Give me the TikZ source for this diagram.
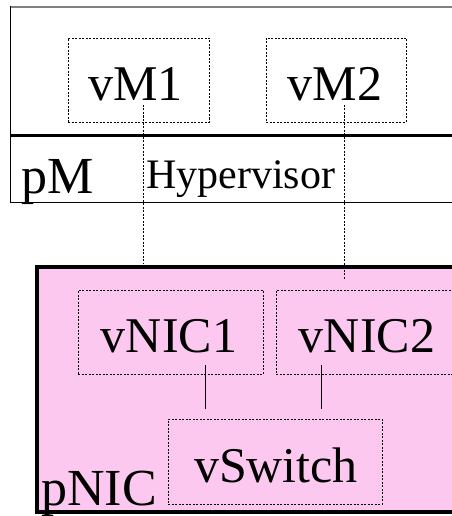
\documentclass[tikz,border=0pt]{standalone}
\usepackage{fontspec}
\setmainfont{Liberation Serif}
\definecolor{nicpink}{HTML}{FDC8EF}
\begin{document}
\begin{tikzpicture}[x=1pt,y=-1pt,
  vbox/.style={draw, dash pattern=on 2pt off 1.5pt, line width=0.7pt, inner sep=0pt},
  big/.style={font=\fontsize{50}{60}\selectfont, inner sep=0pt, anchor=base},
  mid/.style={font=\fontsize{42}{50}\selectfont, inner sep=0pt, anchor=base west},
  link/.style={draw, dash pattern=on 2pt off 1.5pt, line width=0.7pt},
  solidlink/.style={draw, line width=0.7pt}]
\useasboundingbox (0,0) rectangle (451,516);
% pM frame
\draw[gray, line width=2pt] (10,7) -- (452,7);
\draw[line width=1pt] (10,6) -- (10,202) -- (452,202);
\draw[line width=2.5pt] (10,135.5) -- (452,135.5);
% VM boxes
\node[vbox, minimum width=141pt, minimum height=84pt] (vm1) at (138.5,80) {};
\node[vbox, minimum width=140pt, minimum height=84pt] (vm2) at (336,80) {};
\node[big] (vm1t) at (135.5,100) {vM1};
\node[big] (vm2t) at (335,100) {vM2};
\node[font=\fontsize{52}{60}\selectfont, inner sep=0pt, anchor=base west] (pm) at (21,193) {pM};
\node[mid] (hyp) at (146,188) {Hypervisor};
% pNIC
\draw[line width=4pt, fill=nicpink] (37,267) rectangle (455,512);
\node[vbox, minimum width=185pt, minimum height=84pt] (vnic1) at (170.5,332) {};
\node[vbox, minimum width=180pt, minimum height=84pt, anchor=west] (vnic2) at (276,332) {};
\node[vbox, minimum width=214pt, minimum height=85pt] (vsw) at (275,461.5) {};
\node[big] (vnic1t) at (169,352) {vNIC1};
\node[big] (vnic2t) at (367,352) {vNIC2};
\node[big] (vswt) at (276,482) {vSwitch};
\node[font=\fontsize{52}{60}\selectfont, inner sep=0pt, anchor=base west] (pnic) at (41,505) {pNIC};
% connectors
\coordinate (a1) at (143,105);
\coordinate (b1) at (143,264);
\coordinate (a2) at (344,105);
\coordinate (b2) at (344,280);
\coordinate (c1) at (205,365);
\coordinate (d1) at (205,409);
\coordinate (c2) at (321,365);
\coordinate (d2) at (321,409);
\draw[link] (a1) -- (b1);
\draw[link] (a2) -- (b2);
\draw[solidlink] (c1) -- (d1);
\draw[solidlink] (c2) -- (d2);
\end{tikzpicture}
\end{document}
